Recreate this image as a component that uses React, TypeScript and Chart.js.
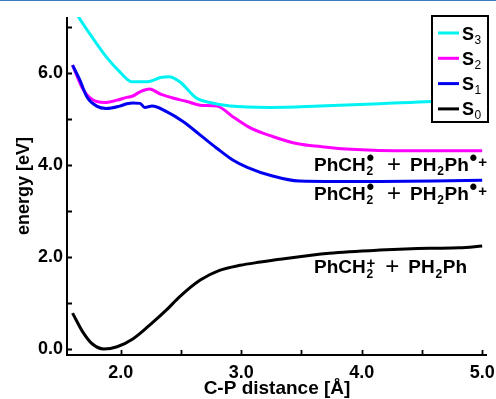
import React, { useEffect, useRef } from 'react';
import { Chart, registerables } from 'chart.js';

Chart.register(...registerables);

// ---- data (C-P distance in Å, energy in eV) ----
const s0X = [1.60, 1.69, 1.76, 1.86, 1.97, 2.10, 2.24, 2.38, 2.49, 2.66, 2.82, 2.99, 3.16, 3.32, 3.73, 4.15, 4.56, 4.81, 5.00];
const s0Y = [0.78, 0.35, 0.12, 0.00, 0.05, 0.22, 0.52, 0.85, 1.14, 1.50, 1.71, 1.82, 1.89, 1.95, 2.08, 2.15, 2.19, 2.20, 2.24];

const s1X = [1.60, 1.66, 1.72, 1.80, 1.88, 1.99, 2.05, 2.10, 2.16, 2.20, 2.26, 2.38, 2.52, 2.66, 2.80, 2.93, 3.05, 3.26, 3.48, 3.80, 4.15, 4.60, 5.00];
const s1Y = [6.17, 5.85, 5.48, 5.28, 5.23, 5.28, 5.33, 5.35, 5.34, 5.25, 5.28, 5.16, 4.94, 4.65, 4.36, 4.11, 3.95, 3.76, 3.65, 3.64, 3.64, 3.65, 3.67];

const s2X = [1.60, 1.69, 1.80, 1.88, 1.97, 2.05, 2.10, 2.16, 2.24, 2.33, 2.44, 2.55, 2.66, 2.80, 2.93, 3.08, 3.26, 3.47, 3.66, 3.87, 4.42, 5.00];
const s2Y = [6.17, 5.63, 5.38, 5.36, 5.41, 5.47, 5.50, 5.59, 5.65, 5.54, 5.45, 5.38, 5.30, 5.28, 5.05, 4.80, 4.62, 4.46, 4.40, 4.35, 4.31, 4.31];

const s3X = [1.60, 1.65, 1.77, 1.88, 1.99, 2.09, 2.22, 2.33, 2.40, 2.49, 2.63, 2.74, 2.91, 3.24, 3.65, 4.15, 4.58, 5.00];
const s3Y = [7.45, 7.22, 6.75, 6.35, 6.03, 5.81, 5.81, 5.90, 5.92, 5.81, 5.45, 5.36, 5.28, 5.25, 5.28, 5.33, 5.38, 5.40];

const xTickValues = [2.0, 2.5, 3.0, 3.5, 4.0, 4.5, 5.0];
const yTickValues = [0, 1, 2, 3, 4, 5, 6, 7];
const xLabelValues = [2, 3, 4, 5];
const yLabelValues = [0, 2, 4, 6];

const xTitle = 'C-P distance [Å]';
const yTitle = 'energy [eV]';

const seriesNames = ['S', 'S', 'S', 'S'];
const seriesSubs = ['3', '2', '1', '0'];
const seriesColors = ['#00f2f2', '#ff00ff', '#0000f0', '#000000'];

// annotation text pieces: [kind, text]; n=normal, op=operator, sb=subscript, sp=superscript, ss="sub|sup" stacked, g=gap
type Seg = [string, string];
const radicalPair: Seg[] = [['n', 'PhCH'], ['ss', '2|•'], ['g', '12'], ['op', '+'], ['g', '9'], ['n', 'PH'], ['sb', '2'], ['n', 'Ph'], ['sp', '•+']];
const cationPair: Seg[] = [['n', 'PhCH'], ['ss', '2|+'], ['g', '10'], ['op', '+'], ['g', '9'], ['n', 'PH'], ['sb', '2'], ['n', 'Ph']];
const annotationTexts = [radicalPair, radicalPair, cationPair];
const annotationX = [3.604, 3.604, 3.604];
const annotationY = [3.87, 3.24, 1.645];

const FONT = '"Liberation Sans", Arial, sans-serif';

const toPts = (xs: number[], ys: number[]) => xs.map((x, i) => ({ x, y: ys[i] }));

// draws the "•" character scaled so that its glyph has diameter d, centred at (cx, cy)
function drawBullet(ctx: CanvasRenderingContext2D, cx: number, cy: number, d: number) {
  ctx.font = `bold 20px ${FONT}`;
  let m = ctx.measureText('•');
  const h = (m.actualBoundingBoxAscent + m.actualBoundingBoxDescent) || 6;
  const size = (20 * d) / h;
  ctx.font = `bold ${size}px ${FONT}`;
  m = ctx.measureText('•');
  const left = -m.actualBoundingBoxLeft;
  const right = m.actualBoundingBoxRight;
  const asc = m.actualBoundingBoxAscent;
  const desc = m.actualBoundingBoxDescent;
  ctx.textAlign = 'left';
  ctx.textBaseline = 'alphabetic';
  ctx.fillText('•', cx - (left + right) / 2, cy + (asc - desc) / 2);
}

function drawRich(ctx: CanvasRenderingContext2D, x0: number, base: number, segs: Seg[]) {
  const big = `bold 19px ${FONT}`;
  const small = `bold 12px ${FONT}`;
  const plusSmall = `bold 15px ${FONT}`;
  let cx = x0;
  for (const [k, t] of segs) {
    ctx.textBaseline = 'alphabetic';
    ctx.textAlign = 'left';
    if (k === 'g') { cx += parseFloat(t); continue; }
    if (k === 'n' || k === 'op') {
      ctx.font = k === 'n' ? big : `24px ${FONT}`;
      ctx.fillText(t, cx, k === 'n' ? base : base + 1);
      cx += ctx.measureText(t).width;
      continue;
    }
    const sub = k === 'sb' ? t : k === 'ss' ? t.split('|')[0] : '';
    const sup = k === 'sp' ? t : k === 'ss' ? t.split('|')[1] : '';
    let w = 0;
    if (sub) {
      ctx.font = small;
      ctx.fillText(sub, cx + 0.8, base + 4.5);
      w = Math.max(w, ctx.measureText(sub).width + 1.5);
    }
    if (sup) {
      let sx = cx + 0.8;
      for (const ch of sup) {
        if (ch === '•') {
          drawBullet(ctx, sx + 3.4, base - 13.2, 6.6);
          sx += 8.5;
        } else {
          ctx.font = plusSmall;
          ctx.textAlign = 'left';
          ctx.textBaseline = 'alphabetic';
          ctx.fillText(ch, sx, k === 'ss' ? base - 5 : base - 4);
          sx += ctx.measureText(ch).width;
        }
      }
      w = Math.max(w, sx - cx);
    }
    cx += w;
  }
}

const decorPlugin = {
  id: 'decor',
  afterDatasetsDraw(chart: any) {
    const { ctx, chartArea: a, scales } = chart;
    const xs = scales.x;
    const ys = scales.y;
    ctx.save();
    // axes
    ctx.strokeStyle = '#000';
    ctx.lineWidth = 2;
    ctx.beginPath();
    ctx.moveTo(a.left, a.top);
    ctx.lineTo(a.left, a.bottom);
    ctx.lineTo(a.right, a.bottom);
    ctx.stroke();
    // inward ticks
    ctx.lineWidth = 1.8;
    ctx.beginPath();
    for (const v of xTickValues) {
      const px = Math.round(xs.getPixelForValue(v)) + 0.5;
      ctx.moveTo(px, a.bottom);
      ctx.lineTo(px, a.bottom - 5);
    }
    for (const v of yTickValues) {
      const py = Math.round(ys.getPixelForValue(v)) + 0.5;
      ctx.moveTo(a.left, py);
      ctx.lineTo(a.left + 5, py);
    }
    ctx.stroke();

    // annotations
    ctx.fillStyle = '#000';
    annotationTexts.forEach((segs, i) => {
      drawRich(ctx, xs.getPixelForValue(annotationX[i]), ys.getPixelForValue(annotationY[i]), segs);
    });

    // legend box
    const lx = a.right - 55;
    const ly = a.top - 1;
    const lw = 56;
    const lh = 106;
    ctx.fillStyle = '#fff';
    ctx.fillRect(lx, ly, lw, lh);
    ctx.strokeStyle = '#000';
    ctx.lineWidth = 2;
    ctx.strokeRect(lx, ly, lw, lh);
    seriesNames.forEach((name, i) => {
      const yc = ly + 17 + i * 25.3;
      ctx.strokeStyle = seriesColors[i];
      ctx.lineWidth = 3;
      ctx.beginPath();
      ctx.moveTo(lx + 6, yc);
      ctx.lineTo(lx + 27, yc);
      ctx.stroke();
      ctx.fillStyle = '#000';
      ctx.font = `bold 18px ${FONT}`;
      ctx.textBaseline = 'alphabetic';
      ctx.textAlign = 'left';
      const base = yc + 6.5;
      ctx.fillText(name, lx + 30, base);
      const w = ctx.measureText(name).width;
      ctx.font = `12px ${FONT}`;
      ctx.fillText(seriesSubs[i], lx + 30 + w + 0.5, base + 4);
    });

    // axis titles
    ctx.fillStyle = '#000';
    ctx.font = `bold 19px ${FONT}`;
    ctx.textAlign = 'center';
    ctx.textBaseline = 'middle';
    ctx.fillText(xTitle, (a.left + a.right) / 2, 388);
    ctx.save();
    ctx.translate(24, (a.top + a.bottom) / 2);
    ctx.rotate(-Math.PI / 2);
    ctx.font = `bold 18px ${FONT}`;
    ctx.fillText(yTitle, 0, 0);
    ctx.restore();
    ctx.restore();
  },
};

export default function App() {
  const ref = useRef<HTMLCanvasElement | null>(null);
  useEffect(() => {
    if (!ref.current) return;
    const mk = (xs: number[], ys: number[], color: string) => ({
      data: toPts(xs, ys),
      borderColor: color,
      backgroundColor: color,
      borderWidth: 3,
      pointRadius: 0,
      fill: false,
      tension: 0.4,
      cubicInterpolationMode: 'monotone' as const,
    });
    const chart = new Chart(ref.current, {
      type: 'line',
      data: {
        datasets: [
          { label: 'S3', ...mk(s3X, s3Y, seriesColors[0]) },
          { label: 'S1', ...mk(s1X, s1Y, seriesColors[2]) },
          { label: 'S2', ...mk(s2X, s2Y, seriesColors[1]) },
          { label: 'S0', ...mk(s0X, s0Y, seriesColors[3]) },
        ],
      },
      options: {
        responsive: false,
        animation: false,
        devicePixelRatio: 1,
        layout: { padding: { top: 16, right: 9, left: 0, bottom: 0 } },
        plugins: { legend: { display: false }, tooltip: { enabled: false } },
        scales: {
          x: {
            type: 'linear',
            min: 1.554,
            max: 5.04,
            grid: { display: false, drawTicks: false },
            border: { display: false },
            ticks: {
              stepSize: 1,
              includeBounds: false,
              autoSkip: false,
              maxRotation: 0,
              padding: 7,
              color: '#000',
              font: { family: FONT, size: 18, weight: 'bold' },
              callback: (v: any) => (xLabelValues.some((l) => Math.abs(l - v) < 1e-6) ? Number(v).toFixed(1) : ''),
            },
            afterFit: (s: any) => {
              s.height = 44;
              s.paddingLeft = 0;
              s.paddingRight = 0;
            },
          },
          y: {
            type: 'linear',
            min: -0.13,
            max: 7.217,
            grid: { display: false, drawTicks: false },
            border: { display: false },
            ticks: {
              stepSize: 2,
              includeBounds: false,
              autoSkip: false,
              padding: 4,
              color: '#000',
              font: { family: FONT, size: 18, weight: 'bold' },
              callback: (v: any) => (yLabelValues.some((l) => Math.abs(l - v) < 1e-6) ? Number(v).toFixed(1) : ''),
            },
            afterFit: (s: any) => {
              s.width = 67;
              s.paddingTop = 0;
              s.paddingBottom = 0;
            },
          },
        },
      },
      plugins: [decorPlugin],
    });
    return () => chart.destroy();
  }, []);

  return (
    <div style={{ position: 'fixed', left: 0, top: 0, width: 496, height: 399, background: '#fff', borderTop: '1px solid #3b7bc0', boxSizing: 'border-box' }}>
      <canvas ref={ref} width={496} height={398} style={{ display: 'block', width: 496, height: 398 }} />
    </div>
  );
}
